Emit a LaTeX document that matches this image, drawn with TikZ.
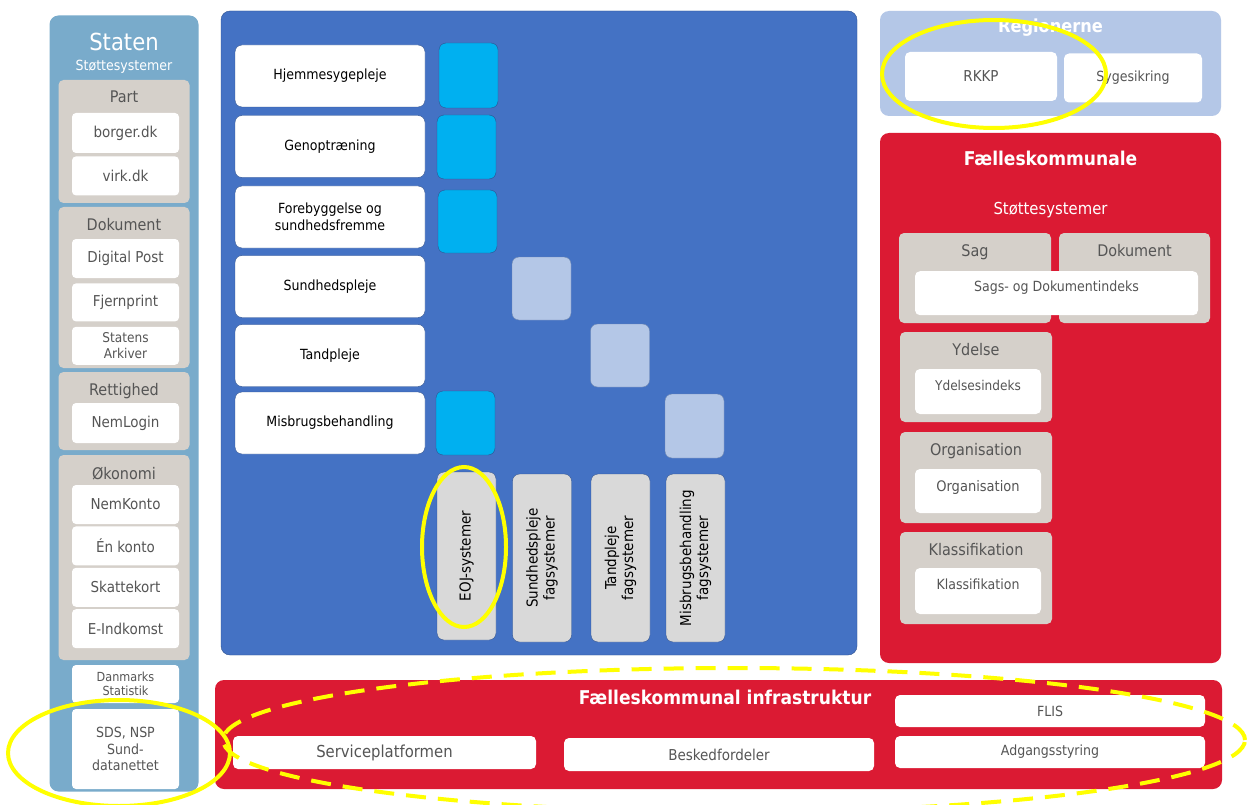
\documentclass[tikz,border=0pt]{standalone}
\usepackage{fontspec}
\setmainfont{DejaVu Sans Condensed}
\usetikzlibrary{positioning,shapes.geometric}
\usepackage{xcolor}

\definecolor{statenblue}{HTML}{79ABCB}
\definecolor{grpgray}{HTML}{D5D0CA}
\definecolor{txtgray}{HTML}{555555}
\definecolor{panelblue}{HTML}{4472C4}
\definecolor{darkblue}{HTML}{2F528F}
\definecolor{sqcyan}{HTML}{00B0F0}
\definecolor{sqlight}{HTML}{B4C7E7}
\definecolor{fagsgray}{HTML}{D9D9D9}
\definecolor{kommred}{HTML}{DB1A33}
\definecolor{hiyellow}{HTML}{FFFF00}

\begin{document}
\begin{tikzpicture}[x=1pt,y=-1pt]
\tikzstyle{panel} = [rectangle, rounded corners=9pt, inner sep=0pt]
\tikzstyle{grp} = [rectangle, fill=grpgray, rounded corners=5pt, inner sep=0pt,
text=txtgray, font=\fontsize{16}{18}\selectfont]
\tikzstyle{wbox} = [rectangle, fill=white, rounded corners=4pt, text=txtgray,
align=center, inner sep=1pt, minimum width=107pt, minimum height=39pt,
font=\fontsize{15}{17}\selectfont]
\tikzstyle{task} = [rectangle, draw=darkblue, fill=white, rounded corners=7pt,
align=center, minimum width=190pt, minimum height=62pt, inner sep=1pt,
font=\fontsize{14}{16.5}\selectfont]
\tikzstyle{cyansq} = [rectangle, draw=darkblue, fill=sqcyan, rounded corners=7pt,
minimum width=59pt, minimum height=64pt]
\tikzstyle{lightsq} = [rectangle, draw=darkblue!70, fill=sqlight, rounded corners=7pt,
minimum width=59pt, minimum height=63pt]
\tikzstyle{fags} = [rectangle, draw=darkblue, fill=fagsgray, rounded corners=7pt,
rotate=90, align=center, minimum width=168pt, minimum height=59pt,
font=\fontsize{15}{17}\selectfont]
\tikzstyle{rbox} = [rectangle, fill=white, rounded corners=5pt, text=txtgray,
align=center, inner sep=1pt, font=\fontsize{14}{16}\selectfont]
\tikzstyle{hilite} = [draw=hiyellow, line width=4pt, ellipse, fill=none]

\fill[white] (0,0) rectangle (1247,805);
\clip (0,0) rectangle (1247,805);

% Staten
\node [panel, fill=statenblue, minimum width=149pt, minimum height=776pt] (staten) at (124,403.5) {};
\node [text=white, font=\fontsize{23.5}{26}\selectfont] (statentitle) at (124,42) {Staten};
\node [text=white, font=\fontsize{14}{16}\selectfont] (statensub) at (124,67) {Støttesystemer};

\node [grp, minimum width=131pt, minimum height=123pt,
label={[anchor=north, text=txtgray, font=\fontsize{16}{18}\selectfont, yshift=-8pt]north:Part}] (part) at (124,141.5) {};
\node [wbox, minimum height=40pt] (borger) at (125.5,133) {borger.dk};
\node [wbox, below=3pt of borger] (virk) {virk.dk};

\node [grp, minimum width=131pt, minimum height=161pt,
label={[anchor=north, text=txtgray, font=\fontsize{16}{18}\selectfont, yshift=-8pt]north:Dokument}] (dokument) at (124,287.5) {};
\node [wbox] (digipost) at (125.5,258.5) {Digital Post};
\node [wbox, minimum height=38pt, below=5pt of digipost] (fjernprint) {Fjernprint};
\node [wbox, minimum height=38pt, below=5pt of fjernprint, font=\fontsize{13.5}{15.5}\selectfont] (arkiver) {Statens\\Arkiver};

\node [grp, minimum width=131pt, minimum height=78pt,
label={[anchor=north, text=txtgray, font=\fontsize{16}{18}\selectfont, yshift=-8pt]north:Rettighed}] (rettighed) at (124,411) {};
\node [wbox, minimum height=40pt] (nemlogin) at (125.5,423) {NemLogin};

\node [grp, minimum width=131pt, minimum height=205pt,
label={[anchor=north, text=txtgray, font=\fontsize{16}{18}\selectfont, yshift=-9pt]north:Økonomi}] (okonomi) at (124,557.5) {};
\node [wbox] (nemkonto) at (125.5,504.5) {NemKonto};
\node [wbox, below=2pt of nemkonto] (enkonto) {Én konto};
\node [wbox, below=2pt of enkonto] (skattekort) {Skattekort};
\node [wbox, below=2pt of skattekort] (eindkomst) {E-Indkomst};

\node [wbox, minimum height=38pt, font=\fontsize{12.5}{14.5}\selectfont] (dst) at (125.5,684) {Danmarks\\Statistik};
\node [wbox, minimum height=80pt, font=\fontsize{14}{16.5}\selectfont] (sds) at (125.5,749) {SDS, NSP\\Sund-\\datanettet};

% blue panel
\node [panel, draw=darkblue, fill=panelblue, minimum width=636pt, minimum height=644pt] (kommune) at (539,333) {};

\node [task] (hjemme) at (330,76) {Hjemmesygepleje};
\node [task] (genop) at (330,146.5) {Genoptræning};
\node [task] (forebyg) at (330,217) {Forebyggelse og\\sundhedsfremme};
\node [task] (sundpleje) at (330,286.5) {Sundhedspleje};
\node [task] (tandpleje) at (330,355.5) {Tandpleje};
\node [task] (misbrug) at (330,423) {Misbrugsbehandling};

\node [cyansq, minimum height=65pt] (sq1) at (468.5,75.5) {};
\node [cyansq] (sq2) at (466.5,147) {};
\node [cyansq, minimum height=63pt] (sq3) at (467.5,221.5) {};
\node [cyansq] (sq4) at (465.5,423) {};
\node [lightsq] (sq5) at (541.5,288.5) {};
\node [lightsq] (sq6) at (620,355.5) {};
\node [lightsq, minimum height=64pt] (sq7) at (694.5,426) {};

\node [fags] (eoj) at (466.5,556) {EOJ-systemer};
\node [fags] (sundfags) at (542,558) {Sundhedspleje\\fagsystemer};
\node [fags] (tandfags) at (620.5,558) {Tandpleje\\fagsystemer};
\node [fags] (misfags) at (695.5,558) {Misbrugsbehandling\\fagsystemer};

% Regionerne
\node [panel, fill=sqlight, minimum width=341pt, minimum height=105pt] (regioner) at (1050.5,63.5) {};
\node [text=white, font=\bfseries\fontsize{18}{20}\selectfont] (regtitle) at (1050.5,28) {Regionerne};
\node [rbox, minimum width=152pt, minimum height=49pt, font=\fontsize{15}{17}\selectfont] (rkkp) at (981,76.5) {RKKP};
\node [rbox, minimum width=138pt, minimum height=49pt] (sygesikring) at (1133,78) {Sygesikring};

% Faelleskommunale
\node [panel, fill=kommred, minimum width=341pt, minimum height=530pt] (faelles) at (1050.5,398) {};
\node [text=white, font=\bfseries\fontsize{19}{22}\selectfont] (faellestitle) at (1050.5,158) {Fælleskommunale};
\node [text=white, font=\fontsize{16.5}{19}\selectfont] (faellessub) at (1050.5,210) {Støttesystemer};

\node [grp, minimum width=152pt, minimum height=90pt,
label={[anchor=north, text=txtgray, font=\fontsize{16}{18}\selectfont, yshift=-8pt]north:Sag}] (sag) at (975,278) {};
\node [grp, minimum width=151pt, minimum height=90pt,
label={[anchor=north, text=txtgray, font=\fontsize{16}{18}\selectfont, yshift=-8pt]north:Dokument}] (fdok) at (1134.5,278) {};
\node [rbox, minimum width=283pt, minimum height=44pt, anchor=north, text depth=14pt] (sagsindeks) at (1056.5,271) {Sags- og Dokumentindeks};

\node [grp, minimum width=152pt, minimum height=90pt,
label={[anchor=north, text=txtgray, font=\fontsize{16}{18}\selectfont, yshift=-8pt]north:Ydelse}] (ydelse) at (976,377) {};
\node [rbox, minimum width=126pt, minimum height=45pt,
label={[anchor=north, text=txtgray, font=\fontsize{13.5}{15.5}\selectfont, yshift=-8pt]north:Ydelsesindeks}] (ydelsesindeks) at (978,391.5) {};

\node [grp, minimum width=152pt, minimum height=91pt,
label={[anchor=north, text=txtgray, font=\fontsize{16}{18}\selectfont, yshift=-8pt]north:Organisation}] (organisation) at (976,477.5) {};
\node [rbox, minimum width=126pt, minimum height=44pt,
label={[anchor=north, text=txtgray, font=\fontsize{14.5}{16.5}\selectfont, yshift=-8pt]north:Organisation}] (orgbox) at (978,491) {};

\node [grp, minimum width=152pt, minimum height=92pt,
label={[anchor=north, text=txtgray, font=\fontsize{16}{18}\selectfont, yshift=-8pt]north:Klassifikation}] (klassifikation) at (976,578) {};
\node [rbox, minimum width=126pt, minimum height=46pt,
label={[anchor=north, text=txtgray, font=\fontsize{14}{16}\selectfont, yshift=-8pt]north:Klassifikation}] (klasbox) at (978,591) {};

% infrastruktur
\node [panel, fill=kommred, minimum width=1007pt, minimum height=109pt] (infra) at (718.5,734.5) {};
\node [text=white, font=\bfseries\fontsize{19}{22}\selectfont] (infratitle) at (725,697) {Fælleskommunal infrastruktur};
\node [rbox, minimum width=310pt, minimum height=32pt] (flis) at (1050,711) {FLIS};
\node [rbox, minimum width=303pt, minimum height=33pt, font=\fontsize{16.5}{19}\selectfont] (serviceplat) at (384.5,752.5) {Serviceplatformen};
\node [rbox, minimum width=310pt, minimum height=33pt, font=\fontsize{15}{17}\selectfont] (besked) at (719,754.5) {Beskedfordeler};
\node [rbox, minimum width=310pt, minimum height=32pt] (adgang) at (1050,752) {Adgangsstyring};

% markeringer
\node [hilite, minimum width=224pt, minimum height=108pt] (markreg) at (994,74) {};
\node [hilite, minimum width=84pt, minimum height=160pt] (markeoj) at (464,547) {};
\node [hilite, minimum width=222pt, minimum height=106pt] (marksds) at (119,753) {};
\node [hilite, dash pattern=on 20pt off 12pt, minimum width=1022pt, minimum height=144pt] (markinfra) at (734,740) {};

\end{tikzpicture}
\end{document}
